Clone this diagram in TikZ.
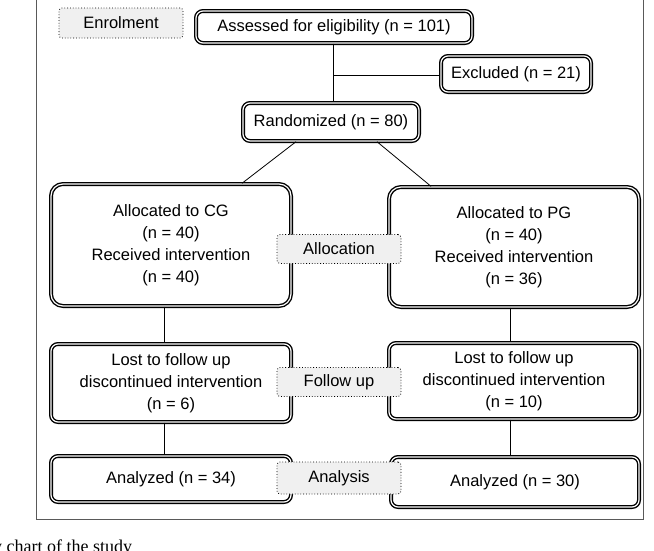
\documentclass[tikz,border=0pt]{standalone}
\usepackage{fontspec}
\setmainfont{Liberation Sans}
\newfontfamily\capfont{Liberation Serif}
\begin{document}
\begin{tikzpicture}[x=1pt,y=-1pt,
 box/.style={draw,rounded corners=7pt,line width=1.4pt,double=white,double distance=1.2pt,align=center,font=\fontsize{16.5}{22}\selectfont,inner sep=0pt},
 lab/.style={draw,dotted,line width=0.8pt,rounded corners=3pt,fill=gray!12,font=\fontsize{16.5}{18}\selectfont,inner sep=0pt},
 ln/.style={line width=0.8pt}]
\useasboundingbox (0,0) rectangle (654,550);
\draw[gray!70!black,line width=0.9pt] (36,-5) rectangle (643,519);
\node[lab,minimum width=124,minimum height=30] (enr) at (121,23) {Enrolment};
\node[box,minimum width=276,minimum height=32] (ass) at (334,27) {Assessed for eligibility (n = 101)};
\node[box,minimum width=150,minimum height=36] (exc) at (516,74) {Excluded (n = 21)};
\node[box,minimum width=176,minimum height=38] (ran) at (331,122) {Randomized (n = 80)};
\node[box,minimum width=240,minimum height=122,rounded corners=12pt] (acg) at (171,245) {Allocated to CG\\(n = 40)\\Received intervention\\(n = 40)};
\node[box,minimum width=250,minimum height=120,rounded corners=12pt] (apg) at (514,247) {Allocated to PG\\(n = 40)\\Received intervention\\(n = 36)};
\node[lab,minimum width=124,minimum height=29] (all) at (339,249) {Allocation};
\node[box,minimum width=240,minimum height=78] (lcg) at (171,383) {Lost to follow up\\discontinued intervention\\(n = 6)};
\node[box,minimum width=250,minimum height=76] (lpg) at (514,381) {Lost to follow up\\discontinued intervention\\(n = 10)};
\node[lab,minimum width=124,minimum height=29] (fol) at (339,382) {Follow up};
\node[box,minimum width=240,minimum height=46] (ncg) at (171,479) {Analyzed (n = 34)};
\node[box,minimum width=248,minimum height=50] (npg) at (515,482) {Analyzed (n = 30)};
\node[lab,minimum width=124,minimum height=32] (ana) at (339,478) {Analysis};
\coordinate (j) at (333,75);
\draw[ln] (ass.south -| j) -- (ran.north -| j);
\draw[ln] (j) -- (exc.west |- j);
\draw[ln] (ran.south -| 296,0) -- (acg.north -| 242,0);
\draw[ln] (ran.south -| 377,0) -- (apg.north -| 431,0);
\draw[ln] (acg.south -| 164,0) -- (lcg.north -| 164,0);
\draw[ln] (lcg.south -| 164,0) -- (ncg.north -| 164,0);
\draw[ln] (apg.south -| 510,0) -- (lpg.north -| 510,0);
\draw[ln] (lpg.south -| 510,0) -- (npg.north -| 510,0);
\begin{scope}
\clip (0,0) rectangle (654,550);
\node[anchor=base west,font=\capfont\fontsize{18}{20}\selectfont,inner sep=0pt] (cap) at (-20,552) {ow chart of the study};
\end{scope}
\end{tikzpicture}
\end{document}
